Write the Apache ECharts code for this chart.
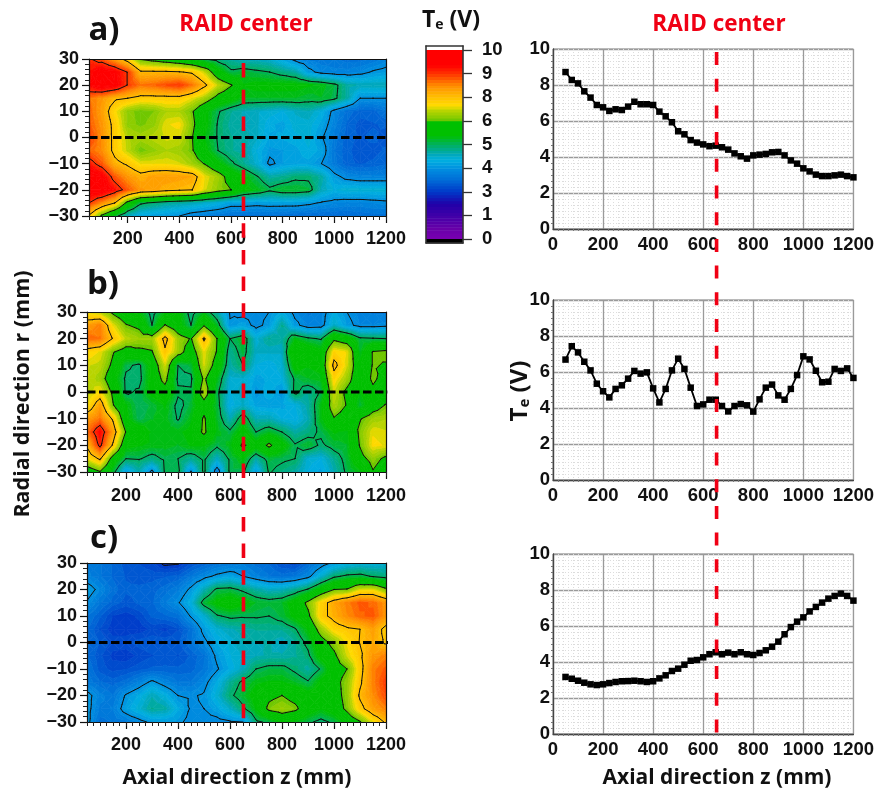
<!DOCTYPE html>
<html><head><meta charset="utf-8">
<style>html,body{margin:0;padding:0;background:#fff}#c{width:877px;height:791px}</style>
<script src="https://cdn.jsdelivr.net/npm/echarts@6/dist/echarts.min.js"></script>
</head><body><div id="c"></div>
<script>
// ---------- data ----------
const mapZ = [50,100,150,200,250,300,350,400,450,500,550,600,650,700,750,800,850,900,950,1000,1050,1100,1150,1200];
const mapR = [30,25,20,15,10,5,0,-5,-10,-15,-20,-25,-30];
const mapA = [
[8.8,8.5,7.9,7.2,6.2,6.0,5.8,5.6,5.3,5.0,4.8,4.6,4.4,4.4,4.3,4.0,3.6,3.4,3.3,3.3,3.2,3.2,3.3,3.5],
[9.1,9.5,9.3,8.72,7.6,7.6,7.6,7.55,7.4,6.8,5.7,5.1,5.2,5.1,5.0,4.8,4.6,3.9,3.6,3.5,3.5,3.6,3.8,3.9],
[9.2,9.6,9.4,8.72,8.3,8.4,8.6,8.74,8.3,7.6,6.8,6.3,5.5,5.6,5.6,5.6,5.6,5.5,5.4,5.15,4.6,4.5,4.5,4.5],
[8.3,8.0,7.6,7.5,7.3,7.3,7.3,7.3,7.0,6.6,6.0,5.7,5.3,5.3,5.3,5.3,5.3,5.2,5.3,5.1,4.6,3.75,3.75,3.75],
[8.4,7.9,7.1,6.5,6.3,6.4,6.7,6.7,6.3,5.6,5.05,4.7,4.5,4.4,4.3,4.2,4.4,4.5,4.2,3.6,3.2,3.05,3.05,3.3],
[8.5,8.0,7.3,6.5,6.35,6.5,7.0,7.1,6.4,5.6,4.95,4.6,4.5,4.4,4.1,4.0,4.3,4.3,4.0,3.5,3.1,2.9,2.95,3.0],
[8.72,8.09,7.3,6.76,6.65,6.8,6.93,6.89,6.26,5.43,4.94,4.7,4.63,4.41,4.04,4.09,4.17,4.28,3.81,3.37,3.02,2.94,3.02,2.87],
[8.4,8.1,7.3,6.8,6.3,6.5,6.7,6.6,6.3,5.6,5.0,4.7,4.6,4.2,3.85,3.9,4.0,4.2,4.0,3.3,3.0,2.9,2.9,3.0],
[9.0,8.5,7.7,7.4,7.0,7.0,7.0,6.9,6.6,6.2,5.6,5.1,4.7,4.3,3.65,3.9,4.0,4.0,3.75,3.35,3.0,2.95,3.0,3.1],
[9.7,9.4,8.5,8.0,7.7,7.9,7.95,7.9,7.8,7.0,6.6,5.9,5.5,5.05,4.6,4.7,4.9,4.9,4.6,3.9,3.6,3.5,3.5,3.5],
[9.6,9.6,9.1,8.5,8.0,7.9,7.7,7.6,7.5,6.9,6.5,6.25,5.6,5.4,5.1,5.3,5.3,5.2,4.5,4.2,4.3,4.3,4.3,4.3],
[8.75,8.1,7.5,6.0,5.1,4.9,4.7,4.6,4.5,4.35,4.2,3.95,3.95,3.9,3.95,3.95,3.95,3.85,3.7,3.6,3.55,3.55,3.6,3.65],
[7.4,6.1,5.2,4.4,4.0,3.9,3.85,3.75,3.5,3.4,3.3,3.2,3.2,3.2,3.2,3.15,3.1,3.1,3.1,3.1,3.1,3.15,3.2,3.2]
];
const mapB = [
[6.9,6.7,6.1,5.7,5.5,4.8,5.4,5.6,4.8,5.3,4.6,3.7,3.6,3.6,3.75,4.1,3.6,3.4,3.5,4.1,3.75,3.5,3.4,3.4],
[7.9,8.2,7.0,6.3,6.1,5.0,6.3,5.7,5.0,6.2,5.3,3.8,4.0,3.6,3.9,4.7,3.9,3.5,3.55,4.4,3.9,3.6,3.6,3.65],
[8.4,8.3,7.45,6.8,6.6,6.6,7.7,6.6,6.2,7.6,6.25,5.0,5.3,4.3,4.7,4.6,5.4,5.1,4.95,6.1,5.8,5.1,5.05,5.0],
[7.2,7.0,6.3,5.9,6.1,6.2,7.4,6.6,5.8,7.0,6.2,4.7,5.2,4.4,4.4,4.4,6.2,5.9,5.6,7.2,7.0,5.3,6.3,6.4],
[6.9,6.8,6.1,5.1,4.9,5.7,6.9,5.0,5.2,6.9,5.9,4.6,5.0,4.2,4.1,4.3,5.7,5.5,5.6,7.7,6.9,5.6,6.3,6.2],
[6.9,6.6,5.7,4.9,4.85,5.7,6.5,4.9,4.9,6.4,5.4,4.3,4.35,4.0,4.1,4.2,5.1,5.3,5.4,7.2,6.6,5.6,6.4,5.9],
[6.69,7.09,6.09,4.93,5.06,5.63,5.91,5.09,5.06,6.74,5.13,4.2,4.46,3.81,4.22,3.8,5.13,4.7,5.06,6.87,6.07,5.46,6.06,5.67],
[7.0,7.9,6.3,5.5,5.0,5.2,5.5,4.85,5.2,5.9,5.2,4.1,4.4,4.0,3.95,4.0,4.2,4.6,5.4,6.7,6.2,5.2,5.9,6.3],
[7.9,8.3,7.4,5.6,5.05,5.3,5.4,4.95,5.4,6.35,5.3,4.5,5.3,4.5,4.5,4.2,4.1,4.5,5.4,6.2,5.9,6.2,6.6,6.7],
[8.3,9.2,7.9,6.2,5.9,5.4,5.4,5.4,5.6,6.4,5.4,5.1,5.7,5.0,5.3,5.0,4.6,4.8,5.1,5.5,5.4,6.4,7.0,6.9],
[7.6,8.9,7.4,5.6,5.5,5.4,5.4,5.3,5.5,5.5,5.1,5.4,6.4,5.7,6.4,5.7,5.05,5.3,4.9,5.2,5.3,6.3,7.1,7.0],
[7.0,7.6,5.9,5.0,5.05,4.8,5.1,5.0,4.7,5.1,4.4,5.1,5.5,4.6,5.2,5.1,5.0,4.3,4.2,4.7,5.2,6.0,6.5,6.1],
[5.7,6.2,5.2,3.9,4.5,3.6,5.05,5.1,3.7,5.1,3.4,5.1,5.1,3.9,5.05,4.8,4.6,4.2,4.0,4.5,5.1,5.4,6.2,5.8]
];
const mapC = [
[3.4,3.3,3.1,2.9,2.8,2.7,2.4,2.45,2.8,3.0,3.2,3.3,3.4,3.2,3.1,2.8,2.7,3.1,3.5,3.85,4.1,4.2,4.2,4.3],
[3.5,3.3,3.1,2.95,2.9,2.9,2.95,3.0,3.3,3.6,3.85,4.0,3.75,3.5,3.3,3.2,3.3,3.6,4.3,4.9,5.1,5.15,4.95,4.8],
[4.0,3.6,3.2,3.0,3.0,3.05,3.2,3.4,3.85,4.5,5.1,5.15,4.9,4.6,4.4,4.45,4.7,5.05,5.7,6.25,6.3,6.9,6.95,6.4],
[3.7,3.3,3.05,2.9,3.0,3.1,3.4,3.7,4.2,5.2,5.6,5.8,5.6,5.3,5.2,5.3,5.7,6.4,7.2,7.8,8.2,8.5,8.4,8.0],
[3.3,3.0,2.65,2.55,2.7,3.0,3.1,3.2,3.8,4.3,4.95,5.1,5.05,5.05,5.0,5.2,5.6,6.1,7.3,7.7,8.1,8.4,8.5,8.0],
[3.15,2.8,2.55,2.55,2.55,2.7,2.6,2.8,3.2,3.9,4.3,4.5,4.6,4.7,4.7,4.7,4.95,5.5,6.6,7.2,7.4,7.5,7.9,7.3],
[3.17,2.96,2.76,2.76,2.89,2.94,2.93,2.93,3.26,3.63,4.07,4.26,4.54,4.52,4.54,4.39,4.65,5.13,5.94,6.48,7.06,7.52,7.8,7.41],
[3.15,2.85,2.6,2.55,2.7,2.8,2.9,2.8,3.0,3.25,3.85,4.2,4.4,4.5,4.55,4.55,4.65,4.9,5.7,6.1,6.9,7.4,8.0,8.2],
[3.3,2.9,2.75,2.8,2.9,3.0,3.0,3.0,3.05,3.3,3.7,4.1,4.45,5.0,5.15,5.15,4.9,4.6,5.05,5.9,6.25,7.3,8.2,8.5],
[3.4,3.15,3.05,3.2,3.5,3.85,3.55,3.3,3.3,3.6,4.1,4.7,5.1,5.4,5.5,5.5,5.3,5.05,5.6,6.0,6.5,7.4,8.2,8.7],
[3.9,3.5,3.3,3.8,4.1,4.5,4.2,3.75,3.7,3.8,4.3,4.9,5.25,5.7,6.1,6.25,6.0,5.7,5.7,5.9,6.5,7.6,8.1,8.6],
[3.9,3.4,3.45,3.95,4.3,4.7,4.6,4.1,3.7,3.75,4.0,4.4,4.9,5.5,6.4,6.6,6.4,5.8,5.5,5.8,6.4,7.3,7.9,8.2],
[3.9,3.2,3.3,3.4,3.6,3.85,3.9,3.85,3.6,3.6,3.6,3.7,3.75,4.9,5.1,5.6,5.4,5.1,4.85,5.1,5.7,6.2,7.0,7.6]
];
const lineZ = [50,75,100,125,150,175,200,225,250,275,300,325,350,375,400,425,450,475,500,525,550,575,600,625,650,675,700,725,750,775,800,825,850,875,900,925,950,975,1000,1025,1050,1075,1100,1125,1150,1175,1200];
const lineA = [8.72,8.28,8.09,7.65,7.3,6.89,6.76,6.56,6.65,6.61,6.8,7.07,6.93,6.93,6.89,6.52,6.26,5.93,5.43,5.26,4.94,4.8,4.7,4.6,4.63,4.54,4.41,4.2,4.04,3.91,4.09,4.13,4.17,4.26,4.28,4.09,3.81,3.63,3.37,3.2,3.02,2.94,2.94,2.98,3.02,2.94,2.87];
const lineB = [6.69,7.43,7.09,6.57,6.09,5.35,4.93,4.59,5.06,5.26,5.63,6.06,5.91,5.98,5.09,4.31,5.06,6.09,6.74,6.17,5.13,4.11,4.2,4.46,4.46,4.11,3.81,4.11,4.22,4.15,3.8,4.48,5.13,5.3,4.7,4.46,5.06,5.83,6.87,6.7,6.07,5.43,5.46,6.17,6.06,6.2,5.67];
const lineC = [3.17,3.07,2.96,2.85,2.76,2.72,2.76,2.83,2.89,2.93,2.94,2.96,2.93,2.89,2.93,3.09,3.26,3.5,3.63,3.85,4.07,4.11,4.26,4.43,4.54,4.43,4.52,4.43,4.54,4.43,4.39,4.5,4.65,4.85,5.13,5.54,5.94,6.24,6.48,6.81,7.06,7.3,7.52,7.67,7.8,7.67,7.41];
const contourLevels = [1.25,2.5,3.75,5,6.25,7.5,8.75];
const colorbarTicks = [0,1.25,2.5,3.75,5,6.25,7.5,8.75,10];
const stopValues = [0,0.55,1.25,1.87,2.5,3.2,3.75,4.2,4.44,5,5.49,6.249,6.25,6.45,6.8,7.07,7.5,8.13,8.75,9.2,10];
const stopColors = ['#7a00b0','#6800a8','#4000a8','#2000a8','#0038c8','#0070d8','#0090e0','#00b0e0','#00a8c0','#00b060','#00c000','#00c000','#60c400','#88cc00','#b8d400','#ffdc00','#ffc000','#ff8c00','#ff3400','#ff0000','#ff0000'];
const raidCenter = 650;
const bandCount = 64;

// ---------- colours ----------
function hex(c){return [1,3,5].map(i=>parseInt(c.substr(i,2),16));}
function colorAt(v){
  let i=0; while(i<stopValues.length-2 && v>stopValues[i+1]) i++;
  const t=Math.max(0,Math.min(1,(v-stopValues[i])/(stopValues[i+1]-stopValues[i])));
  const a=hex(stopColors[i]),b=hex(stopColors[i+1]);
  return 'rgb('+a.map((x,k)=>Math.round(x+(b[k]-x)*t)).join(',')+')';
}
const bandStep=10/bandCount;
const bandColors=[]; for(let i=0;i<bandCount;i++) bandColors.push(colorAt((i+0.5)*bandStep));

// ---------- geometry helpers (drawn at render time, through the axis scale) ----------
function clip(poly,level,keepAbove){
  const out=[];
  for(let i=0;i<poly.length;i++){
    const a=poly[i],b=poly[(i+1)%poly.length];
    const ia=keepAbove?a.v>=level:a.v<=level, ib=keepAbove?b.v>=level:b.v<=level;
    if(ia) out.push(a);
    if(ia!==ib){
      const t=(level-a.v)/(b.v-a.v);
      out.push({x:a.x+(b.x-a.x)*t,y:a.y+(b.y-a.y)*t,v:level});
    }
  }
  return out;
}
function triangles(api,vals){
  const iz=api.value(2),ir=api.value(3);
  const c=[[iz,ir],[iz+1,ir],[iz+1,ir+1],[iz,ir+1]].map(([a,b])=>{
    const p=api.coord([mapZ[a],mapR[b]]);
    return {x:p[0],y:p[1],v:vals[b][a]};
  });
  const m={x:0,y:0,v:0}; c.forEach(p=>{m.x+=p.x/4;m.y+=p.y/4;m.v+=p.v/4;});
  return [0,1,2,3].map(k=>[c[k],c[(k+1)%4],m]);
}
function fillItem(vals){
  return function(params,api){
    const children=[];
    triangles(api,vals).forEach(tri=>{
      const vs=tri.map(p=>p.v);
      const lo=Math.max(0,Math.floor(Math.min(...vs)/bandStep));
      const hi=Math.min(bandCount-1,Math.floor(Math.max(...vs)/bandStep));
      for(let b=lo;b<=hi;b++){
        let poly=clip(tri,b*bandStep,true);
        if(poly.length>2) poly=clip(poly,(b+1)*bandStep,false);
        if(poly.length>2) children.push({type:'polygon',shape:{points:poly.map(p=>[p.x,p.y])},
          style:{fill:bandColors[b],stroke:bandColors[b],lineWidth:0.7}});
      }
    });
    return {type:'group',children:children,silent:true};
  };
}
function lineItem(vals){
  return function(params,api){
    const children=[];
    triangles(api,vals).forEach(tri=>{
      contourLevels.forEach(l=>{
        const pts=[];
        for(let i=0;i<3;i++){
          const a=tri[i],b=tri[(i+1)%3];
          const av=a.v+1e-5,bv=b.v+1e-5;
          if((av<l)!==(bv<l)){const t=(l-av)/(bv-av);pts.push([a.x+(b.x-a.x)*t,a.y+(b.y-a.y)*t]);}
        }
        if(pts.length===2) children.push({type:'line',shape:{x1:pts[0][0],y1:pts[0][1],x2:pts[1][0],y2:pts[1][1]},
          style:{stroke:'#111',lineWidth:1,lineCap:'round'}});
      });
    });
    return {type:'group',children:children,silent:true};
  };
}

// ---------- option ----------
const grid=[],xAxis=[],yAxis=[],series=[];
const labelFont={color:'#111',fontFamily:'Liberation Sans',fontWeight:'bold'};
const axisBlack={lineStyle:{color:'#111',width:1.2}};
const majorZ=[200,400,600,800,1000,1200];
const minorZ=lineZ;
const plain=v=>String(v);
const cells=[];
for(let ir=0;ir<mapR.length-1;ir++)for(let iz=0;iz<mapZ.length-1;iz++)cells.push([mapZ[iz],mapR[ir],iz,ir]);

function addHeat(rect,vals,zeroEnd,xMargin){
  const g=grid.length; grid.push(Object.assign({containLabel:false},rect));
  const base={type:'value',min:50,max:1200,gridIndex:g,splitLine:{show:false},z:5};
  const xi=xAxis.length;
  xAxis.push(Object.assign({},base,{position:'bottom',axisLine:Object.assign({show:true,onZero:false},axisBlack),
    axisTick:{show:true,length:7,customValues:majorZ,lineStyle:{color:'#111',width:1.2}},
    axisLabel:Object.assign({show:true,fontSize:18,margin:xMargin,customValues:majorZ,showMinLabel:true,showMaxLabel:true,formatter:plain},labelFont)}));
  xAxis.push(Object.assign({},base,{position:'bottom',axisLine:{show:false,onZero:false},
    axisTick:{show:true,length:4,customValues:minorZ,lineStyle:{color:'#222',width:1}},axisLabel:{show:false}}));
  xAxis.push(Object.assign({},base,{position:'top',axisLine:Object.assign({show:true,onZero:false},axisBlack),axisTick:{show:false},axisLabel:{show:false}}));
  const yi=yAxis.length;
  yAxis.push({type:'value',min:-30,max:30,interval:10,gridIndex:g,position:'left',z:5,splitLine:{show:false},
    axisLine:Object.assign({show:true,onZero:false},axisBlack),
    axisTick:{show:true,length:7,lineStyle:{color:'#111',width:1.2}},
    minorTick:{show:true,splitNumber:5,length:4,lineStyle:{color:'#222',width:1}},minorSplitLine:{show:false},
    axisLabel:Object.assign({fontSize:18,margin:10,formatter:v=>v<0?'\u2212'+Math.abs(v):String(v)},labelFont)});
  yAxis.push({type:'value',min:-30,max:30,interval:10,gridIndex:g,position:'right',z:5,splitLine:{show:false},
    axisLine:Object.assign({show:true,onZero:false},axisBlack),axisTick:{show:false},axisLabel:{show:false}});
  series.push({type:'custom',xAxisIndex:xi,yAxisIndex:yi,data:cells,renderItem:fillItem(vals),silent:true,z:1,animation:false,clip:true});
  series.push({type:'custom',xAxisIndex:xi,yAxisIndex:yi,data:cells,renderItem:lineItem(vals),silent:true,z:2,animation:false,clip:true});
  series.push({type:'line',xAxisIndex:xi,yAxisIndex:yi,data:[[50,0],[zeroEnd,0]],clip:false,symbol:'none',silent:true,z:6,animation:false,
    lineStyle:{color:'#000',width:3,type:[8.5,3.5]}});
}
function addLine(rect,vals){
  const g=grid.length; grid.push(Object.assign({show:true,borderColor:'#8a8a8a',borderWidth:1},rect));
  const xi=xAxis.length,yi=yAxis.length;
  const minor={show:true,lineStyle:{color:'#dcdcdc',width:1,type:[1,2]}};
  xAxis.push({type:'value',min:0,max:1200,interval:200,gridIndex:g,
    axisLine:{show:true,onZero:false,lineStyle:{color:'#444',width:1.3}},axisTick:{show:false},
    minorTick:{show:true,splitNumber:10,length:2,lineStyle:{color:'#777'}},
    splitLine:{show:true,lineStyle:{color:'#9a9a9a',width:1.3}},minorSplitLine:minor,
    axisLabel:Object.assign({fontSize:18.5,margin:6,hideOverlap:false,formatter:plain},labelFont)});
  yAxis.push({type:'value',min:0,max:10,interval:2,gridIndex:g,
    axisLine:{show:true,onZero:false,lineStyle:{color:'#444',width:1.3}},axisTick:{show:false},
    minorTick:{show:true,splitNumber:6,length:2,lineStyle:{color:'#777'}},
    splitLine:{show:true,lineStyle:{color:'#9a9a9a',width:1.3}},minorSplitLine:minor,
    axisLabel:Object.assign({fontSize:18.5,margin:3},labelFont)});
  series.push({type:'line',xAxisIndex:xi,yAxisIndex:yi,data:lineZ.map((z,i)=>[z,vals[i]]),symbol:'rect',symbolSize:6.5,
    itemStyle:{color:'#000'},lineStyle:{color:'#000',width:1.8},silent:true,animation:false,z:3});
}
function addRaid(rect,xMin,dash){
  const g=grid.length; grid.push(rect);
  const xi=xAxis.length,yi=yAxis.length;
  xAxis.push({type:'value',min:xMin,max:1200,gridIndex:g,show:false});
  yAxis.push({type:'value',min:0,max:1,gridIndex:g,show:false});
  series.push({type:'line',xAxisIndex:xi,yAxisIndex:yi,data:[[raidCenter,1],[raidCenter,0]],symbol:'none',silent:true,animation:false,z:8,
    lineStyle:{color:'#f00014',width:3.6,type:dash}});
}
addHeat({left:89,top:59,width:297,height:157},mapA,1215,14);
addHeat({left:87,top:312,width:299,height:160},mapB,1205,15);
addHeat({left:87,top:563,width:299,height:159},mapC,1215,14);
addLine({left:553,top:49,width:302,height:180},lineA);
addLine({left:553,top:300,width:302,height:180},lineB);
addLine({left:553,top:554,width:302,height:180},lineC);
addRaid({left:88,top:63,width:298,height:659},50,[14.5,12.2]);
addRaid({left:553,top:52,width:302,height:682},0,[13,13.7]);

// colour bar
(function(){
  const g=grid.length; grid.push({left:426,top:46,width:37,height:197});
  const xi=xAxis.length,yi=yAxis.length;
  const frame=Object.assign({show:true,onZero:false},{lineStyle:{color:'#333',width:1.6}});
  xAxis.push({type:'value',min:0,max:1,gridIndex:g,position:'bottom',axisLine:frame,axisTick:{show:false},axisLabel:{show:false},splitLine:{show:false},z:5});
  xAxis.push({type:'value',min:0,max:1,gridIndex:g,position:'top',axisLine:frame,axisTick:{show:false},axisLabel:{show:false},splitLine:{show:false},z:5});
  yAxis.push({type:'value',min:-0.21,max:10.21,gridIndex:g,position:'right',splitLine:{show:false},z:5,axisLine:frame,
    axisTick:{show:true,length:9,customValues:colorbarTicks,lineStyle:{color:'#333',width:1.3}},
    axisLabel:Object.assign({fontSize:18.5,margin:19,customValues:colorbarTicks,formatter:v=>String(Math.round(v))},labelFont)});
  yAxis.push({type:'value',min:-0.21,max:10.21,gridIndex:g,position:'left',splitLine:{show:false},z:5,axisLine:frame,axisTick:{show:false},axisLabel:{show:false}});
  const bands=bandColors.map((c,i)=>[i*bandStep,(i+1)*bandStep,c]);
  bands.push([-0.21,0,'#000000']);
  series.push({type:'custom',xAxisIndex:xi,yAxisIndex:yi,silent:true,animation:false,z:1,data:bands.map(b=>[0.5,b[0],b[1],b[2]]),
    encode:{x:0,y:1},
    renderItem:function(p,api){
      const a=api.coord([0,api.value(1)]),b=api.coord([1,api.value(2)]);
      const col=bands[p.dataIndex][2];
      return {type:'rect',shape:{x:a[0],y:b[1],width:b[0]-a[0],height:a[1]-b[1]+0.5},style:{fill:col}};
    }});
})();

function txt(x,y,t,size,color,extra){
  return Object.assign({type:'text',x:x,y:y,z:20,silent:true,
    style:{text:t,font:'bold '+size+'px "Open Sans"',fill:color||'#111',align:'center',verticalAlign:'middle'}},extra||{});
}
const graphic=[
  txt(104,31,'a)',33,'#111'),
  txt(103,285,'b)',33,'#111'),
  txt(104,539,'c)',33,'#111'),
  txt(246,25,'RAID center',22.5,'#f00014'),
  txt(719,25,'RAID center',22.5,'#f00014'),
  txt(237,778,'Axial direction z (mm)',21,'#111'),
  txt(717,778,'Axial direction z (mm)',21,'#111'),
  txt(23,394,'Radial direction r (mm)',21.5,'#111',{rotation:Math.PI/2}),
  {type:'text',x:451,y:20,z:20,silent:true,style:{text:'{m|T}{s|e}{m| (V)}',align:'center',verticalAlign:'middle',
    rich:{m:{font:'bold 23px "Open Sans"',fill:'#111'},s:{font:'bold 14px "Open Sans"',fill:'#111',verticalAlign:'bottom',padding:[10,0,0,0]}}}},
  {type:'text',x:520,y:391,z:20,silent:true,rotation:Math.PI/2,style:{text:'{m|T}{s|e}{m| (V)}',align:'center',verticalAlign:'middle',
    rich:{m:{font:'bold 24px "Open Sans"',fill:'#111'},s:{font:'bold 15px "Open Sans"',fill:'#111',verticalAlign:'bottom',padding:[10,0,0,0]}}}}
];

const chart=echarts.init(document.getElementById('c'),null,{width:877,height:791});
chart.setOption({backgroundColor:'#fff',animation:false,grid,xAxis,yAxis,series,graphic});
</script></body></html>
